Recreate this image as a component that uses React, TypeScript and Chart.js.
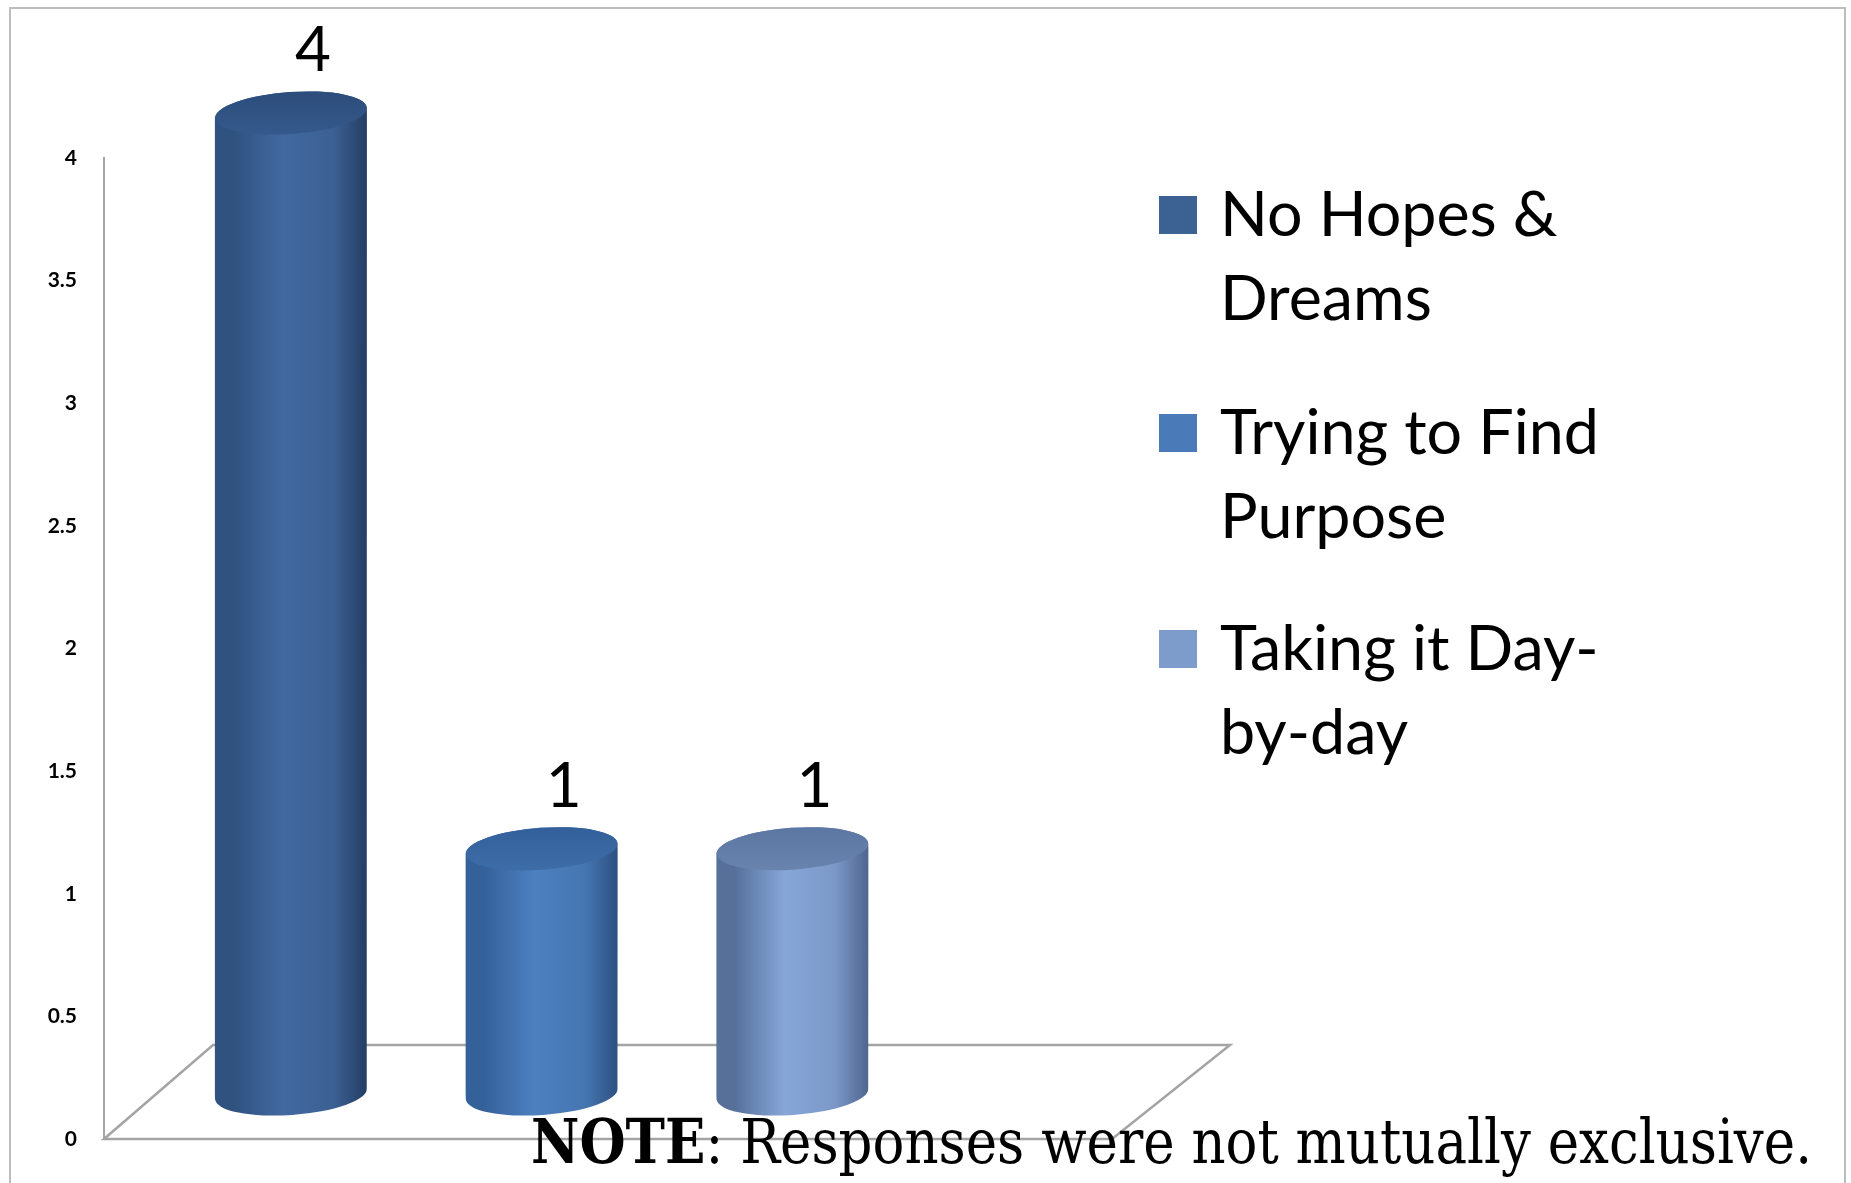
import React, { useEffect, useRef } from 'react';
import { Chart, registerables } from 'chart.js';

Chart.register(...registerables);

const SERIES = ['No Hopes & Dreams', 'Trying to Find Purpose', 'Taking it Day-by-day'];
const LEGEND_LINES = [
  ['No Hopes &', 'Dreams'],
  ['Trying to Find', 'Purpose'],
  ['Taking it Day-', 'by-day'],
];
const VALUES = [4, 1, 1];
const Y_TICKS = [0, 0.5, 1, 1.5, 2, 2.5, 3, 3.5, 4];
const NOTE_BOLD = 'NOTE';
const NOTE_REST = ': Responses were not mutually exclusive.';

const SANS = 'Lato, "Open Sans", sans-serif';
const SERIF = '"DejaVu Serif", "Liberation Serif", serif';

const BAR_COLORS = [
  { l: '#2F527F', m: '#4269A0', mr: '#3B6093', r: '#243E64', capA: '#2C4D7B', capB: '#35598C' },
  { l: '#35619A', m: '#4C80BF', mr: '#4676B2', r: '#2C5182', capA: '#33609A', capB: '#3D6DA8' },
  { l: '#56709A', m: '#87A7D9', mr: '#7B98C8', r: '#4F668E', capA: '#5C77A2', capB: '#6883AE' },
];
const LEGEND_COLORS = ['#3C6193', '#4A7AB8', '#7E9CCB'];

const DEPTH_DX = 54;
const DEPTH_DY = -45;
const CAP_RY = 21;

function drawCylinder(ctx: CanvasRenderingContext2D, cx: number, top: number, bottom: number, rx: number, ry: number, c: any) {
  const tilt = -0.07;
  const g = ctx.createLinearGradient(cx - rx, 0, cx + rx, 0);
  g.addColorStop(0, c.l);
  g.addColorStop(0.12, c.l);
  g.addColorStop(0.45, c.m);
  g.addColorStop(0.78, c.mr);
  g.addColorStop(1, c.r);
  ctx.save();
  ctx.fillStyle = g;
  ctx.beginPath();
  ctx.moveTo(cx - rx, top);
  ctx.lineTo(cx - rx, bottom);
  ctx.ellipse(cx, bottom, rx, ry, tilt, Math.PI, 0, true);
  ctx.lineTo(cx + rx, top);
  ctx.ellipse(cx, top, rx, ry, tilt, 0, Math.PI, true);
  ctx.closePath();
  ctx.fill();
  const cg = ctx.createLinearGradient(cx, top - ry, cx, top + ry);
  cg.addColorStop(0, c.capA);
  cg.addColorStop(1, c.capB);
  ctx.fillStyle = cg;
  ctx.beginPath();
  ctx.ellipse(cx, top, rx, ry, tilt, 0, Math.PI * 2);
  ctx.fill();
  ctx.restore();
}

const cylinderPlugin = {
  id: 'cylinders',
  beforeDatasetsDraw(chart: any) {
    const ctx: CanvasRenderingContext2D = chart.ctx;
    const { left, right } = chart.chartArea;
    const y0 = chart.scales.y.getPixelForValue(0);
    ctx.save();
    ctx.strokeStyle = '#A4A4A4';
    ctx.lineWidth = 2.5;
    ctx.beginPath();
    ctx.moveTo(left, y0);
    ctx.lineTo(left + 109, y0 - 94);
    ctx.lineTo(right + 118, y0 - 94);
    ctx.lineTo(right, y0);
    ctx.closePath();
    ctx.stroke();
    ctx.restore();
  },
  afterDatasetsDraw(chart: any) {
    const ctx: CanvasRenderingContext2D = chart.ctx;
    const meta = chart.getDatasetMeta(0);
    meta.data.forEach((el: any, i: number) => {
      const p = el.getProps(['x', 'y', 'base', 'width'], true);
      const cx = p.x + DEPTH_DX;
      const top = p.y + DEPTH_DY;
      const bottom = p.base + DEPTH_DY;
      drawCylinder(ctx, cx, top, bottom, p.width / 2, CAP_RY, BAR_COLORS[i]);
      ctx.save();
      ctx.fillStyle = '#000';
      ctx.font = `62px ${SANS}`;
      ctx.textAlign = 'center';
      ctx.textBaseline = 'alphabetic';
      ctx.fillText(String(VALUES[i]), cx + 22, top - 42);
      ctx.restore();
    });
  },
  afterDraw(chart: any) {
    const ctx: CanvasRenderingContext2D = chart.ctx;
    ctx.save();
    // outer frame
    ctx.strokeStyle = '#BDBDBD';
    ctx.lineWidth = 2;
    ctx.strokeRect(10, 8, 1835, 1220);
    // legend
    ctx.font = `100px ${SANS}`;
    const w100 = ctx.measureText('Trying to Find').width;
    const fs = (100 * 379) / w100;
    ctx.font = `${fs}px ${SANS}`;
    ctx.fillStyle = '#000';
    ctx.textAlign = 'left';
    ctx.textBaseline = 'alphabetic';
    const bases = [236, 454, 670];
    LEGEND_LINES.forEach((lines, i) => {
      const b = bases[i];
      ctx.fillStyle = LEGEND_COLORS[i];
      ctx.fillRect(1159, b - 40, 38, 38);
      ctx.fillStyle = '#000';
      lines.forEach((t, j) => ctx.fillText(t, 1220, b + j * 84));
    });
    // note
    const noteX = 531;
    const noteBase = 1163;
    const noteSize = 62;
    ctx.font = `bold ${noteSize}px ${SERIF}`;
    const wb = ctx.measureText(NOTE_BOLD).width;
    ctx.font = `${noteSize}px ${SERIF}`;
    const wr = ctx.measureText(NOTE_REST).width;
    const sx = 1281 / (wb + wr);
    ctx.translate(noteX, noteBase);
    ctx.scale(sx, 1);
    ctx.font = `bold ${noteSize}px ${SERIF}`;
    ctx.fillText(NOTE_BOLD, 0, 0);
    ctx.font = `${noteSize}px ${SERIF}`;
    ctx.fillText(NOTE_REST, wb, 0);
    ctx.restore();
  },
};

export default function App() {
  const ref = useRef<HTMLCanvasElement>(null);
  useEffect(() => {
    const canvas = ref.current!;
    const chart = new Chart(canvas, {
      type: 'bar',
      data: {
        datasets: [
          {
            label: SERIES.join(' / '),
            data: VALUES.map((v, i) => ({ x: i, y: v })),
            backgroundColor: 'rgba(0,0,0,0)',
            borderWidth: 0,
            barThickness: 152,
          },
        ],
      },
      options: {
        animation: false,
        responsive: true,
        maintainAspectRatio: false,
        devicePixelRatio: 1,
        layout: { padding: { left: 0, top: 158, right: 739, bottom: 44 } },
        plugins: { legend: { display: false }, tooltip: { enabled: false } },
        scales: {
          x: { type: 'linear', min: -0.53, max: 3.49, offset: false, display: false, grid: { display: false } },
          y: {
            min: 0,
            max: 4,
            afterFit: (s: any) => {
              s.width = 104;
            },
            afterBuildTicks: (s: any) => {
              s.ticks = Y_TICKS.map((v) => ({ value: v }));
            },
            grid: { display: false, drawTicks: false },
            border: { display: true, color: '#A6A6A6', width: 2 },
            ticks: {
              padding: 27,
              color: '#000',
              font: { family: SANS, size: 21, weight: 'bold' },
              callback: (v: any) => String(v),
            },
          },
        },
      } as any,
      plugins: [cylinderPlugin],
    });
    return () => chart.destroy();
  }, []);
  return (
    <div style={{ position: 'fixed', left: 0, top: 0, width: 1851, height: 1183, background: '#fff' }}>
      <canvas ref={ref} />
    </div>
  );
}
